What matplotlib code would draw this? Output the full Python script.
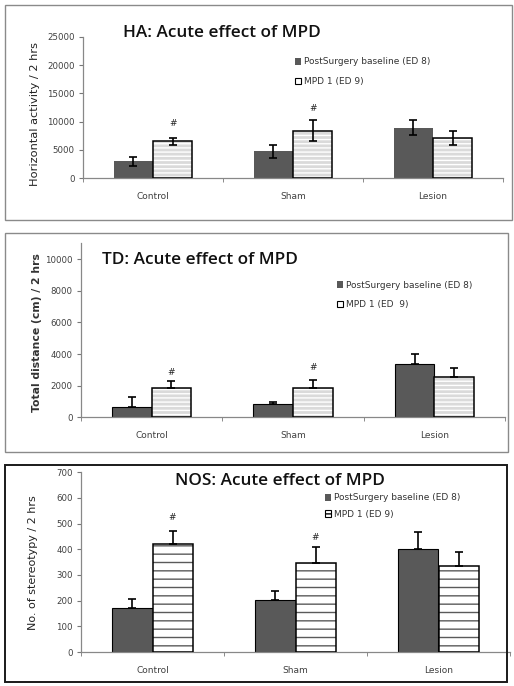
import matplotlib
matplotlib.use("Agg")
import matplotlib.pyplot as plt
from matplotlib.patches import Rectangle, Patch
import numpy as np

groups = ["Control", "Sham", "Lesion"]

# HA panel
ha_base = [3000, 4700, 8900]
ha_base_err = [800, 1100, 1300]
ha_mpd = [6500, 8400, 7100]
ha_mpd_err = [650, 1850, 1300]
ha_hash = [9700, 12300]

# TD panel (upward error bars only)
td_base = [660, 860, 3380]
td_base_err = [600, 90, 640]
td_mpd = [1880, 1880, 2540]
td_mpd_err = [400, 490, 550]
td_hash = [2850, 3150]

# NOS panel (upward error bars only)
nos_base = [173, 203, 402]
nos_base_err = [34, 34, 64]
nos_mpd = [420, 345, 334]
nos_mpd_err = [51, 63, 56]
nos_hash = [522, 445]

base_label = "PostSurgery baseline (ED 8)"
mpd_labels = ["MPD 1 (ED 9)", "MPD 1 (ED  9)", "MPD 1 (ED 9)"]

W, H = 514, 686
fig = plt.figure(figsize=(W / 100, H / 100), dpi=100)
plt.rcParams['font.family'] = ['DejaVu Sans']

dark = "#595959"
tick_col = "#404040"


def px(x0, y_top, x1, y_bot):
    # pixel box -> figure fraction rect
    return [x0 / W, 1 - y_bot / H, (x1 - x0) / W, (y_bot - y_top) / H]


def frame(x0, y0, x1, y1, color, lw):
    fig.add_artist(Rectangle((x0 / W, 1 - y1 / H), (x1 - x0) / W, (y1 - y0) / H,
                             transform=fig.transFigure, fill=False,
                             edgecolor=color, linewidth=lw))


def panel(rect, base, base_err, mpd, mpd_err, hashes, ylim, yticks, both_err,
          mpd_face, mpd_hatch, hatch_col, base_edge):
    ax = fig.add_axes(rect)
    x = np.arange(len(groups))
    w = 0.28
    ax.bar(x - w / 2, base, w, color=dark, edgecolor=base_edge, linewidth=0.8, zorder=2)
    ax.bar(x + w / 2, mpd, w, color=mpd_face, hatch=mpd_hatch, edgecolor=hatch_col,
           linewidth=0, zorder=2)
    ax.bar(x + w / 2, mpd, w, fill=False, edgecolor="black", linewidth=1.1, zorder=3)
    if both_err:
        be = [base_err, base_err]
        me = [mpd_err, mpd_err]
    else:
        be = [[0] * 3, base_err]
        me = [[0] * 3, mpd_err]
    ax.errorbar(x - w / 2, base, yerr=be, fmt="none", ecolor="black",
                elinewidth=1.2, capsize=3, capthick=1.2, zorder=4)
    ax.errorbar(x + w / 2, mpd, yerr=me, fmt="none", ecolor="black",
                elinewidth=1.2, capsize=3, capthick=1.2, zorder=4)
    for i, hy in enumerate(hashes):
        ax.text(x[i] + w / 2, hy, "#", ha="center", va="center", fontsize=6.5,
                color="#222222")
    ax.set_xlim(-0.5, 2.5)
    ax.set_ylim(*ylim)
    ax.set_yticks(yticks)
    ax.set_xticks(x)
    ax.set_xticklabels(groups)
    ax.set_xticks([-0.5, 0.5, 1.5, 2.5], minor=True)
    ax.tick_params(axis="x", which="major", length=0, pad=10, labelsize=6.5,
                   labelcolor=tick_col)
    ax.tick_params(axis="x", which="minor", length=3, color="#777777", direction="out")
    ax.tick_params(axis="y", length=3, color="#777777", labelsize=6.2,
                   labelcolor=tick_col, pad=3)
    for s in ["top", "right"]:
        ax.spines[s].set_visible(False)
    for s in ["left", "bottom"]:
        ax.spines[s].set_color("#888888")
        ax.spines[s].set_linewidth(0.9)
    ax.set_facecolor("none")
    return ax


# panel frames
frame(5, 5, 512, 220, "#8a8a8a", 1.0)
frame(5, 233, 508, 452, "#8a8a8a", 1.0)
frame(5, 465, 507, 682, "#1a1a1a", 1.4)

ax1 = panel(px(83, 37, 503, 178), ha_base, ha_base_err, ha_mpd, ha_mpd_err, ha_hash,
            (0, 25000), range(0, 25001, 5000), True,
            "#dadada", "----", "white", "none")
ax2 = panel(px(81, 243.3, 505, 417.3), td_base, td_base_err, td_mpd, td_mpd_err, td_hash,
            (0, 11000), range(0, 10001, 2000), False,
            "#dadada", "----", "white", "black")
ax3 = panel(px(81, 472.3, 510, 652), nos_base, nos_base_err, nos_mpd, nos_mpd_err, nos_hash,
            (0, 700), range(0, 701, 100), False,
            "white", "--", "#5a5a5a", "black")

# titles
title_font = dict(family=["Open Sans", "DejaVu Sans"], fontweight=600, fontsize=12.3,
                  ha="left", va="center", color="#111111")
fig.text(123 / W, 1 - 33 / H, "HA: Acute effect of MPD", **title_font)
fig.text(102 / W, 1 - 260 / H, "TD: Acute effect of MPD", **title_font)
fig.text(175 / W, 1 - 481 / H, "NOS: Acute effect of MPD", **title_font)

# y labels
fig.text(35 / W, 1 - 114 / H, "Horizontal activity / 2 hrs", rotation=90,
         fontsize=8.2, ha="center", va="center", color="#222222")
fig.text(37 / W, 1 - 333 / H, "Total distance (cm) / 2 hrs", rotation=90,
         fontsize=7.8, fontweight="bold", ha="center", va="center", color="#333333")
fig.text(33 / W, 1 - 563 / H, "No. of stereotypy / 2 hrs", rotation=90,
         fontsize=8.0, ha="center", va="center", color="#222222")


# legends
def legend(ax, x0, y0, mpd_label, spacing, hatch):
    handles = [Patch(facecolor=dark, edgecolor="none"),
               Patch(facecolor="white", edgecolor="black", hatch=hatch, linewidth=0.8)]
    leg = ax.legend(handles, [base_label, mpd_label], loc="upper left",
                    bbox_to_anchor=(x0 / W, 1 - y0 / H), bbox_transform=fig.transFigure,
                    frameon=False, fontsize=6.5, handlelength=0.7, handleheight=0.7,
                    handletextpad=0.3, labelspacing=spacing, borderpad=0,
                    borderaxespad=0, labelcolor="#333333")
    return leg


legend(ax1, 295, 57.5, mpd_labels[0], 1.15, None)
legend(ax2, 337, 280.5, mpd_labels[1], 1.15, None)
legend(ax3, 325, 493.5, mpd_labels[2], 0.8, "---")

fig.savefig("out.png", dpi=100)
